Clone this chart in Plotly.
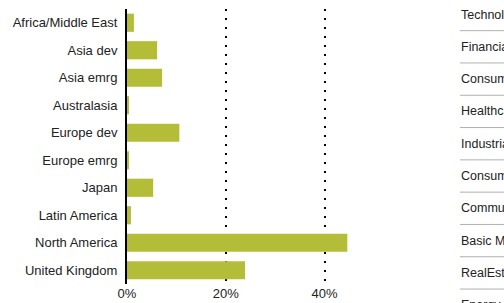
import plotly.graph_objects as go

regions = ["Africa/Middle East", "Asia dev", "Asia emrg", "Australasia", "Europe dev",
           "Europe emrg", "Japan", "Latin America", "North America", "United Kingdom"]
weights = [1.4, 6.1, 7.1, 0.4, 10.6, 0.3, 5.3, 0.8, 44.6, 23.9]

x_ticks = [0, 20, 40]
x_tick_labels = ["0%", "20%", "40%"]

sectors = ["Technology", "Financial Services", "Consumer Cyclical", "Healthcare", "Industrials",
           "Consumer Defensive", "Communication Services", "Basic Materials", "RealEstate", "Energy"]

FONT = "Liberation Sans, Arial, sans-serif"
W, H = 504, 303
ML, MR, MT, MB = 127, 130, 9, 19
PW, PH = W - ML - MR, H - MT - MB


def px_to_paper_x(px):
    return (px - ML) / PW


def px_to_paper_y(py):
    return 1 - (py - MT) / PH


fig = go.Figure(go.Bar(
    x=weights, y=regions, orientation="h",
    marker=dict(color="#b4bd38", line=dict(width=0)),
    hoverinfo="skip",
))

fig.update_layout(
    width=W, height=H,
    margin=dict(l=ML, r=MR, t=MT, b=MB, autoexpand=False),
    paper_bgcolor="white", plot_bgcolor="white",
    showlegend=False,
    bargap=0.34,
    font=dict(family=FONT, size=13, color="#222"),
    xaxis=dict(range=[0, 50], tickvals=x_ticks, ticktext=x_tick_labels,
               showgrid=True, gridcolor="black", gridwidth=2, griddash="2px,7px",
               zeroline=False, showline=False, ticks="", fixedrange=True,
               automargin=False),
    yaxis=dict(autorange="reversed", showline=True, linecolor="black", linewidth=2,
               showgrid=False, zeroline=False, ticks="", ticklabelstandoff=5,
               fixedrange=True, automargin=False),
)

# sector table on the right (cut off by the page edge)
row_h = 32.3
first_center = 14.5
for i, s in enumerate(sectors):
    yc = first_center + i * row_h
    fig.add_annotation(x=px_to_paper_x(459), y=px_to_paper_y(yc), xref="paper", yref="paper",
                       text=s, showarrow=False, xanchor="left", yanchor="middle",
                       font=dict(family=FONT, size=12.5, color="#222"))
    if i < len(sectors) - 1:
        ly = px_to_paper_y(yc + row_h / 2)
        fig.add_shape(type="line", xref="paper", yref="paper",
                      x0=px_to_paper_x(460), x1=px_to_paper_x(520), y0=ly, y1=ly,
                      line=dict(color="#b0b0b0", width=1))

fig.write_html("out.html", config={"displayModeBar": False},
               post_script="document.body.style.margin='0px';document.body.style.overflow='hidden';")
